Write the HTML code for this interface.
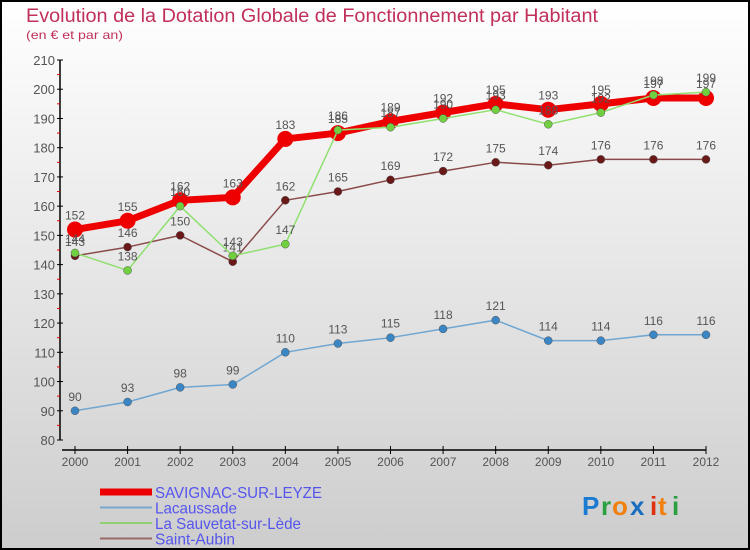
<!DOCTYPE html>
<html><head><meta charset="utf-8"><style>
body{margin:0;width:750px;height:550px;overflow:hidden}
svg{display:block}
text{font-family:"Liberation Sans",sans-serif}
</style></head><body>
<svg id="chart" width="750" height="550" xmlns="http://www.w3.org/2000/svg">
<defs><linearGradient id="bg" x1="0" y1="0" x2="0" y2="1"><stop offset="0" stop-color="#ffffff"/><stop offset="1" stop-color="#cdcdcd"/></linearGradient></defs>
<rect x="1" y="1" width="748" height="548" fill="url(#bg)" stroke="#000" stroke-width="2"/>
<text x="26" y="22" font-size="19" fill="#c0305a" textLength="572" lengthAdjust="spacingAndGlyphs">Evolution de la Dotation Globale de Fonctionnement par Habitant</text>
<text x="26" y="39" font-size="12" fill="#c0305a" textLength="97" lengthAdjust="spacingAndGlyphs">(en € et par an)</text>
<g id="axes"></g>
<g id="series"></g>
<g id="legend"></g>
<g font-size="26" font-weight="bold">
<text x="582" y="515" fill="#1a7bd0">P</text><text x="601" y="515" fill="#2aa040">r</text><text x="612" y="515" fill="#f08010">o</text><text x="630" y="515" fill="#1a6ec0">x</text><text x="650" y="515" fill="#e03010">i</text><text x="658" y="515" fill="#f08010">t</text><text x="672" y="515" fill="#2aa040">i</text>
</g>
</svg>
<script>
const years=[2000,2001,2002,2003,2004,2005,2006,2007,2008,2009,2010,2011,2012];
const savignac=[152,155,162,163,183,185,189,192,195,193,195,197,197];
const lacaussade=[90,93,98,99,110,113,115,118,121,114,114,116,116];
const sauvetat=[144,138,160,143,147,186,187,190,193,188,192,198,199];
const saintAubin=[143,146,150,141,162,165,169,172,175,174,176,176,176];
const yTicks=[80,90,100,110,120,130,140,150,160,170,180,190,200,210];
const NS="http://www.w3.org/2000/svg";
const x=i=>75+i*(706-75)/12;
const y=v=>440-(v-80)*(380/130);
function mk(tag,attrs,parent){const e=document.createElementNS(NS,tag);for(const k in attrs)e.setAttribute(k,attrs[k]);parent.appendChild(e);return e;}
const axes=document.getElementById('axes');
let l=mk('line',{x1:60,y1:60,x2:60,y2:440,stroke:'#000','stroke-width':1.5},axes);


yTicks.forEach(v=>{
 mk('line',{x1:57,x2:63,y1:y(v),y2:y(v),stroke:'#000','stroke-width':1},axes);
 if(v<210) mk('line',{x1:57,x2:60,y1:y(v+5),y2:y(v+5),stroke:'#e00','stroke-width':1},axes);
 const t=mk('text',{x:55,y:y(v)+5,'font-size':13,fill:'#555','text-anchor':'end'},axes);t.textContent=v;
 
 
});
l=mk('line',{x1:62,y1:450,x2:706,y2:450,stroke:'#000','stroke-width':1.5},axes);


years.forEach((yr,i)=>{
 mk('line',{x1:x(i),x2:x(i),y1:446,y2:454,stroke:'#000','stroke-width':1},axes);
 const t=mk('text',{x:x(i),y:466,'font-size':12,fill:'#555','text-anchor':'middle'},axes);t.textContent=yr;
 
 
});
const sg=document.getElementById('series');
function series(name,data,color,w,r,dot){
 const g=mk('g',{},sg);
 
 
 mk('polyline',{points:data.map((v,i)=>x(i)+','+y(v)).join(' '),fill:'none',stroke:color,'stroke-width':w,'stroke-linejoin':'round'},g);
 data.forEach((v,i)=>{
  const c=mk('circle',{cx:x(i),cy:y(v),r:r,fill:dot,stroke:dot==='#e00'?'none':'#555','stroke-width':0.5},g);
  
  
  const t=mk('text',{x:x(i),y:y(v)-10,'font-size':12,fill:'#555','text-anchor':'middle'},g);t.textContent=v;
  
  
 });
}
series('series-lacaussade',lacaussade,'#6fa6d2',1.5,4,'#3a86c4');
series('series-saint-aubin',saintAubin,'#8a4a4a',1.5,4,'#6a1818');
series('series-savignac',savignac,'#e00',7,8,'#e00');
series('series-sauvetat',sauvetat,'#90e070',1.5,4,'#70d040');
const lg=document.getElementById('legend');
const items=[['SAVIGNAC-SUR-LEYZE','#e00',7],['Lacaussade','#7aa8cc',2],['La Sauvetat-sur-Lède','#90d070',2],['Saint-Aubin','#9a6a6a',2]];
const lw=[167,82,146,80];
items.forEach((it,k)=>{
 const yy=492+k*15.5;
 const g=mk('g',{},lg);
 
 
 mk('line',{x1:100,x2:152,y1:yy,y2:yy,stroke:it[1],'stroke-width':it[2]},g);
 const t=mk('text',{x:155,y:yy+6,'font-size':16,fill:'#5555ee',textLength:lw[k],lengthAdjust:'spacingAndGlyphs'},g);t.textContent=it[0];
});
</script>
</body></html>
